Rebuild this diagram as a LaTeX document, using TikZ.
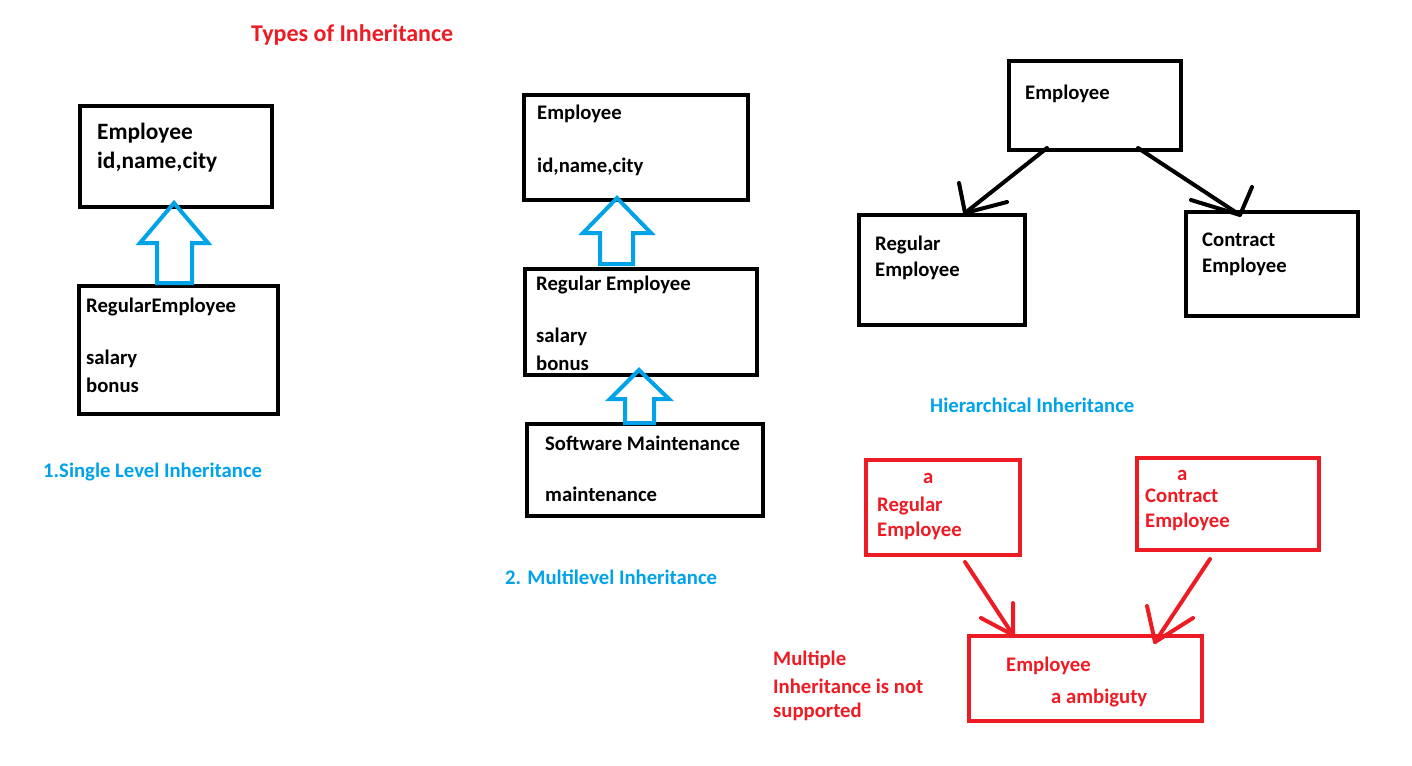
\documentclass[tikz,border=0pt]{standalone}
\usepackage{fontspec}
\setmainfont{Carlito}
\usetikzlibrary{fit}
\definecolor{pred}{HTML}{ED1C24}
\definecolor{pblue}{HTML}{00A2E8}
\begin{document}
\begin{tikzpicture}[x=1pt,y=-1pt,
  bx/.style={draw=black, line width=4pt, inner sep=0pt},
  rbx/.style={bx, draw=pred},
  txt/.style={anchor=west, inner sep=0pt, font=\fontsize{20.7}{24}\selectfont\bfseries},
  bigtxt/.style={txt, font=\fontsize{23.4}{28}\selectfont\bfseries},
  rtxt/.style={txt, text=pred},
  btxt/.style={txt, text=pblue},
  titletxt/.style={rtxt, font=\fontsize{24}{28}\selectfont\bfseries},
  hollow/.style={draw=pblue, line width=4pt, line join=miter},
  blk/.style={draw=black, line width=4pt, line cap=round, line join=round},
  rln/.style={blk, draw=pred}]
\useasboundingbox[fill=white] (0,0) rectangle (1412,765);

% title
\node[titletxt] (title) at (251,35) {Types of Inheritance};

% single level
\node[bx, fit={(80,106) (272,207)}] (s1) {};
\node[bigtxt] (s1a) at (97,133) {Employee};
\node[bigtxt] (s1b) at (97,162) {id,name,city};
\node[bx, fit={(79,286) (278,414)}] (s2) {};
\node[txt] (s2a) at (86,307) {RegularEmployee};
\node[txt] (s2b) at (86,359) {salary};
\node[txt] (s2c) at (86,385) {bonus};
\coordinate (a1t) at (174,203);
\draw[hollow] (a1t) -- ++(34,40) -- ++(-16,0) -- ++(0,40) -- ++(-35,0) -- ++(0,-40) -- ++(-17,0) -- cycle;
\node[btxt] (l1) at (43,472) {1.Single Level Inheritance};

% multilevel
\node[bx, fit={(524,95) (748,200)}] (m1) {};
\node[txt] (m1a) at (537,114) {Employee};
\node[txt] (m1b) at (537,167) {id,name,city};
\node[bx, fit={(525,269) (757,375)}] (m2) {};
\node[txt] (m2a) at (536,285) {Regular Employee};
\node[txt] (m2b) at (536,337) {salary};
\node[txt] (m2c) at (536,363) {bonus};
\node[bx, fit={(527,424) (763,516)}] (m3) {};
\node[txt] (m3a) at (545,443) {Software Maintenance};
\node[txt] (m3b) at (545,494) {maintenance};
\coordinate (a2t) at (617,198);
\draw[hollow] (a2t) -- ++(34,35) -- ++(-18,0) -- ++(0,31) -- ++(-33,0) -- ++(0,-31) -- ++(-17,0) -- cycle;
\coordinate (a3t) at (639,370);
\draw[hollow] (a3t) -- ++(30,29) -- ++(-15,0) -- ++(0,24) -- ++(-29,0) -- ++(0,-24) -- ++(-15,0) -- cycle;
\node[btxt] (l2) at (505,577) {2. Multilevel Inheritance};

% hierarchical
\node[bx, fit={(1009,61) (1181,150)}] (h1) {};
\node[txt] (h1a) at (1025,94) {Employee};
\node[bx, fit={(859,215) (1025,325)}] (h2) {};
\node[txt] (h2a) at (875,245) {Regular};
\node[txt] (h2b) at (875,271) {Employee};
\node[bx, fit={(1186,212) (1358,316)}] (h3) {};
\node[txt] (h3a) at (1202,240) {Contract};
\node[txt] (h3b) at (1202,267) {Employee};
\coordinate (hs1) at (1047,148);
\coordinate (ht1) at (965,213);
\draw[blk] (hs1) -- (ht1);
\draw[blk] (959,183) -- (ht1) -- (1007,202);
\coordinate (hs2) at (1138,148);
\coordinate (ht2) at (1240,215);
\draw[blk] (hs2) -- (ht2);
\draw[blk] (1252,187) -- (ht2) -- (1191,200);
\node[btxt] (l3) at (930,405) {Hierarchical Inheritance};

% multiple
\node[rbx, fit={(866,460) (1020,555)}] (r1) {};
\node[rtxt] (r1a) at (923,478) {a};
\node[rtxt] (r1b) at (877,506) {Regular};
\node[rtxt] (r1c) at (877,531) {Employee};
\node[rbx, fit={(1137,458) (1319,550)}] (r2) {};
\node[rtxt] (r2a) at (1177,475) {a};
\node[rtxt] (r2b) at (1145,496) {Contract};
\node[rtxt] (r2c) at (1145,522) {Employee};
\node[rbx, fit={(969,636) (1202,721)}] (r3) {};
\node[rtxt] (r3a) at (1006,666) {Employee};
\node[rtxt] (r3b) at (1051,698) {a ambiguty};
\coordinate (rs1) at (965,562);
\coordinate (rt1) at (1013,635);
\draw[rln] (rs1) -- (rt1);
\draw[rln] (1013,603) -- (rt1) -- (981,618);
\coordinate (rs2) at (1210,559);
\coordinate (rt2) at (1155,642);
\draw[rln] (rs2) -- (rt2);
\draw[rln] (1147,606) -- (rt2) -- (1193,618);
\node[rtxt] (n1) at (773,660) {Multiple};
\node[rtxt] (n2) at (773,686) {Inheritance is not};
\node[rtxt] (n3) at (773,712) {supported};
\end{tikzpicture}
\end{document}
